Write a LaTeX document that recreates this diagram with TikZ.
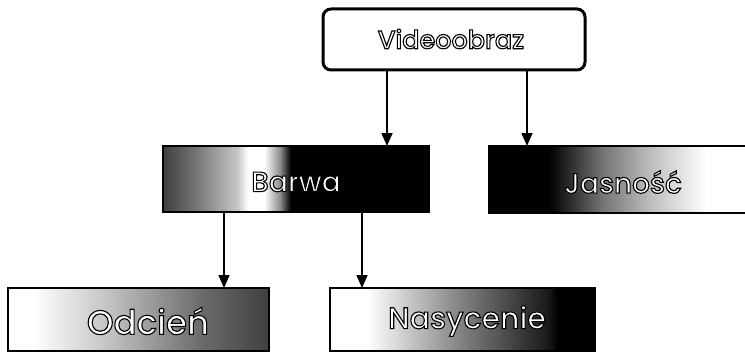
\documentclass[tikz,border=0pt]{standalone}
\usepackage{fontspec}
\IfFontExistsTF{Poppins Medium}{\setmainfont{Poppins}[BoldFont={Poppins Medium}]}{\setmainfont{Poppins}}
\usetikzlibrary{arrows.meta}
\pgfdeclarehorizontalshading{barwashade}{100bp}{color(0bp)=(black!75); color(25bp)=(black!75); color(31bp)=(black!55); color(39bp)=(black!22); color(41bp)=(white); color(44bp)=(white); color(47bp)=(black!45); color(49bp)=(black); color(75bp)=(black); color(100bp)=(black)}
\pgfdeclarehorizontalshading{jasshade}{100bp}{color(0bp)=(black); color(25bp)=(black); color(36.5bp)=(black); color(46.5bp)=(black!55); color(56bp)=(black!25); color(66.5bp)=(white); color(75bp)=(white); color(100bp)=(white)}
\pgfdeclarehorizontalshading{odcshade}{100bp}{color(0bp)=(white); color(25bp)=(white); color(30bp)=(white); color(45bp)=(black!25); color(62bp)=(black!58); color(75bp)=(black!75); color(100bp)=(black!75)}
\pgfdeclarehorizontalshading{nasshade}{100bp}{color(0bp)=(white); color(25bp)=(white); color(32bp)=(white); color(50bp)=(black!50); color(66bp)=(black!90); color(68bp)=(black); color(75bp)=(black); color(100bp)=(black)}
\tikzset{
  box/.style={draw=black, line width=2pt, rectangle, inner sep=0pt},
  vidbox/.style={draw=black, line width=3pt, rounded corners=8pt, fill=white, inner sep=0pt},
  lbl/.style={text=white, font=\fontsize{#1}{#1}\selectfont\bfseries},
  arr/.style={line width=1.6pt, -{Triangle[length=13pt,width=11pt]}, shorten >=-1pt}
}
\newcommand{\olabel}[1]{\special{pdf:literal direct 0 G 2 Tr 1.1 w}#1\special{pdf:literal direct 0 Tr}}
\begin{document}
\begin{tikzpicture}[x=1pt,y=-1pt]
\useasboundingbox (0,0) rectangle (745,353);
\fill[white] (0,0) rectangle (745,353);
\node[vidbox, minimum width=262pt, minimum height=61pt] (vid) at (454,39.5) {};
\node[lbl=25.5] (vidt) at (451,39) {\olabel{Videoobraz}};
\node[box, shading=barwashade, minimum width=266pt, minimum height=66pt] (bar) at (296,179) {};
\node[lbl=28] (bart) at (296,182) {\olabel{Barwa}};
\node[box, shading=jasshade, minimum width=262pt, minimum height=67pt] (jas) at (620,179.5) {};
\node[lbl=28] (jast) at (623,182) {\olabel{Jasność}};
\node[box, shading=odcshade, minimum width=261pt, minimum height=63pt] (odc) at (138.5,319.5) {};
\node[lbl=34] (odct) at (148,321) {\olabel{Odcień}};
\node[box, shading=nasshade, minimum width=265pt, minimum height=63pt] (nas) at (462.5,319.5) {};
\node[lbl=30] (nast) at (467,321) {\olabel{Nasycenie}};
\draw[arr] ([xshift=-67pt]vid.south) -- ([xshift=-67pt]vid.south |- bar.north);
\draw[arr] ([xshift=73pt]vid.south) -- ([xshift=73pt]vid.south |- jas.north);
\draw[arr] ([xshift=-72pt]bar.south) -- ([xshift=-72pt]bar.south |- odc.north);
\draw[arr] ([xshift=66pt]bar.south) -- ([xshift=66pt]bar.south |- nas.north);
\end{tikzpicture}
\end{document}
